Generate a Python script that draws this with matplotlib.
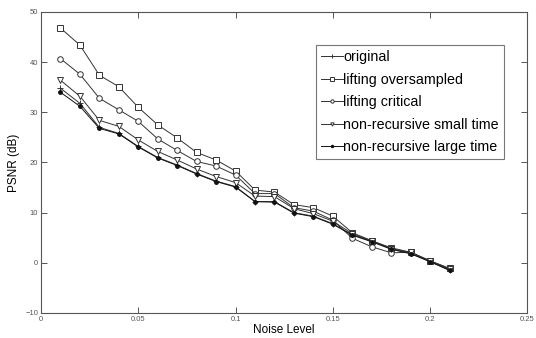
import matplotlib
matplotlib.use("Agg")
import matplotlib.pyplot as plt

noise = [0.01, 0.02, 0.03, 0.04, 0.05, 0.06, 0.07, 0.08, 0.09, 0.10, 0.11,
         0.12, 0.13, 0.14, 0.15, 0.16, 0.17, 0.18, 0.19, 0.20, 0.21]

original = [34.8, 31.8, 27.0, 25.8, 23.2, 21.0, 19.5, 17.8, 16.3, 15.2, 12.2,
            12.2, 10.0, 9.3, 7.8, 5.6, 4.3, 2.8, 1.9, 0.3, -1.5]
lifting_over = [46.8, 43.4, 37.4, 35.1, 31.0, 27.5, 24.9, 22.0, 20.5, 18.3, 14.5,
                14.1, 11.6, 11.0, 9.3, 6.0, 4.4, 3.0, 2.1, 0.4, -1.1]
lifting_crit = [40.7, 37.6, 32.8, 30.5, 28.2, 24.7, 22.4, 20.2, 19.3, 17.5, 13.8,
                13.8, 11.0, 10.3, 8.5, 4.9, 3.2, 2.0, 2.1, 0.4, -1.2]
nonrec_small = [36.4, 33.2, 28.4, 27.2, 24.5, 22.2, 20.5, 18.7, 17.2, 16.0, 13.3,
                13.2, 10.8, 9.8, 8.3, 5.8, 4.4, 2.8, 2.1, 0.3, -1.3]
nonrec_large = [34.0, 31.2, 26.8, 25.7, 23.1, 20.9, 19.4, 17.7, 16.2, 15.1, 12.2,
                12.1, 9.9, 9.2, 7.7, 5.5, 4.2, 2.7, 1.8, 0.2, -1.5]

plt.rcParams["font.family"] = ["Liberation Sans", "DejaVu Sans"]

fig = plt.figure(figsize=(5.36, 3.38), dpi=100)
ax = fig.add_axes([0.0765, 0.074, 0.9075, 0.8905])

lc = "#333333"
kw = dict(color=lc, linewidth=0.7, markersize=4, markeredgewidth=0.7)
ax.plot(noise, original, marker="+", label="original", **kw)
ax.plot(noise, lifting_over, marker="s", markerfacecolor="white",
        label="lifting oversampled", **kw)
ax.plot(noise, lifting_crit, marker="o", markerfacecolor="white",
        label="lifting critical", **kw)
ax.plot(noise, nonrec_small, marker="v", markerfacecolor="white",
        label="non-recursive small time", **kw)
ax.plot(noise, nonrec_large, marker=".", markersize=5, color="#111111",
        linewidth=0.7, label="non-recursive large time")

ax.set_xlim(0, 0.25)
ax.set_ylim(-10, 50)
ax.set_xticks([0, 0.05, 0.1, 0.15, 0.2, 0.25])
ax.set_xticklabels(["0", "0.05", "0.1", "0.15", "0.2", "0.25"])
ax.set_yticks([-10, 0, 10, 20, 30, 40, 50])
ax.tick_params(direction="in", top=True, right=True, length=4, pad=2,
               labelsize=5.5, labelcolor="#555555", color="#555555", width=0.7)
for s in ax.spines.values():
    s.set_color("#555555")
    s.set_linewidth(0.8)

ax.set_xlabel("Noise Level", fontsize=8.5, labelpad=1)
ax.set_ylabel("PSNR (dB)", fontsize=8.5, labelpad=4)

leg = ax.legend(loc="upper right", bbox_to_anchor=(0.952, 0.89), fontsize=10.3,
                frameon=True, fancybox=False, handlelength=1.5,
                handletextpad=0.05, borderpad=0.35, labelspacing=0.6,
                borderaxespad=0, markerscale=0.6)
leg.get_frame().set_edgecolor("#555555")
leg.get_frame().set_linewidth(0.8)

fig.savefig("out.png", dpi=100)
plt.close(fig)
